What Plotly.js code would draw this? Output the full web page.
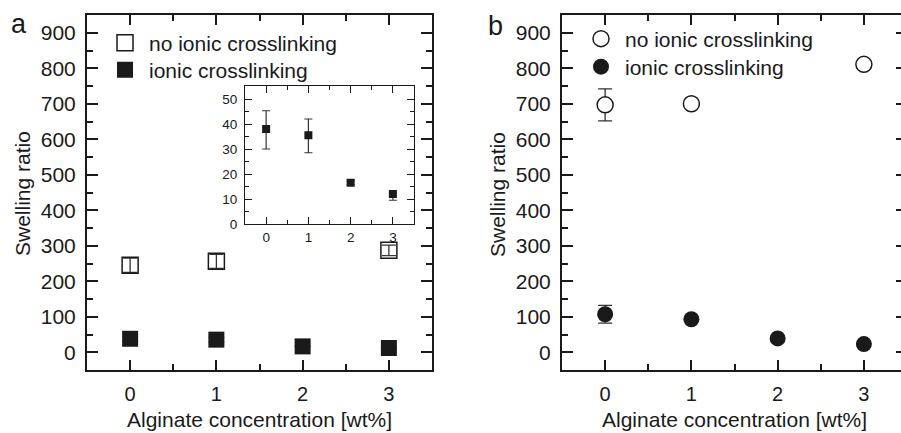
<!DOCTYPE html>
<html><head><meta charset="utf-8">
<script src="https://cdn.plot.ly/plotly-3.0.1.min.js"></script>
<style>html,body{margin:0;padding:0;overflow:hidden;background:#fff;width:901px;height:433px}</style>
</head><body><div id="c"></div>
<script>
const conc = [0, 1, 2, 3];
const xTicks = [0, 1, 2, 3];
const aNoIonic = [245, 256, null, 287];
const aNoIonicErr = [20, 20, null, 15];
const aIonic = [38, 35.5, 16.5, 12];
const aIonicErrUp = [7.3, 6.5, 0.8, 0.5];
const aIonicErrDown = [8, 7, 0.8, 2.5];
const bNoIonic = [697, 700, null, 811];
const bNoIonicErr = [45, 6, null, 6];
const bIonic = [107, 93, 39, 23];
const bIonicErr = [25, 6, 5, 4];
const yTicksMain = [0, 100, 200, 300, 400, 500, 600, 700, 800, 900];
const yTicksInset = [0, 10, 20, 30, 40, 50];
const labelNo = "no ionic crosslinking";
const labelIonic = "ionic crosslinking";
const xTitle = "Alginate concentration [wt%]";
const yTitle = "Swelling ratio";

const W = 912, H = 433;
const px = v => v / W, py = v => 1 - v / H;
const FONT = "Liberation Sans, Arial, sans-serif";
const ink = "#1a1a1a";

const traces = [
  {x: conc, y: aNoIonic, type: 'scatter', mode: 'markers', name: labelNo, xaxis: 'x', yaxis: 'y', legend: 'legend',
   marker: {symbol: 'square-open', size: 16, color: ink, line: {width: 1.5, color: ink}},
   error_y: {type: 'data', array: aNoIonicErr, visible: true, color: '#333', thickness: 1.3, width: 7}},
  {x: conc, y: aIonic, type: 'scatter', mode: 'markers', name: labelIonic, xaxis: 'x', yaxis: 'y', legend: 'legend2',
   marker: {symbol: 'square', size: 16, color: ink},
   error_y: {type: 'data', symmetric: false, array: aIonicErrUp, arrayminus: aIonicErrDown, visible: true, color: '#555', thickness: 1, width: 8}},
  {x: conc, y: aIonic, type: 'scatter', mode: 'markers', showlegend: false, xaxis: 'x3', yaxis: 'y3',
   marker: {symbol: 'square', size: 8, color: ink},
   error_y: {type: 'data', symmetric: false, array: aIonicErrUp, arrayminus: aIonicErrDown, visible: true, color: '#333', thickness: 1.2, width: 4}},
  {x: conc, y: bNoIonic, type: 'scatter', mode: 'markers', name: labelNo, xaxis: 'x2', yaxis: 'y2', legend: 'legend3',
   marker: {symbol: 'circle', size: 16, color: '#fff', line: {width: 1.5, color: ink}},
   error_y: {type: 'data', array: bNoIonicErr, visible: true, color: '#333', thickness: 1.3, width: 7}},
  {x: conc, y: bIonic, type: 'scatter', mode: 'markers', name: labelIonic, xaxis: 'x2', yaxis: 'y2', legend: 'legend4',
   marker: {symbol: 'circle', size: 16, color: ink},
   error_y: {type: 'data', array: bIonicErr, visible: true, color: '#333', thickness: 1.3, width: 7}}
];

function xax(dom, anchor, size, lw, tl, mtl, standoff) {
  return {domain: dom, anchor: anchor, range: [-0.5, 3.5], tickvals: xTicks, ticks: 'inside', ticklen: tl, tickwidth: lw,
    tickcolor: ink, showline: true, linecolor: ink, linewidth: lw, mirror: 'allticks', showgrid: false, zeroline: false,
    tickfont: {family: FONT, size: size, color: ink}, ticklabelstandoff: standoff,
    minor: {dtick: 0.5, tick0: 0, ticks: 'inside', ticklen: mtl, tickwidth: lw, tickcolor: ink, showgrid: false}, fixedrange: true};
}
function yax(dom, anchor, range, tv, dt, size, lw, tl, mtl, standoff) {
  return {domain: dom, anchor: anchor, range: range, tickvals: tv, ticks: 'inside', ticklen: tl, tickwidth: lw,
    tickcolor: ink, showline: true, linecolor: ink, linewidth: lw, mirror: 'allticks', showgrid: false, zeroline: false,
    tickfont: {family: FONT, size: size, color: ink}, ticklabelstandoff: standoff,
    minor: {dtick: dt, tick0: 0, ticks: 'inside', ticklen: mtl, tickwidth: lw, tickcolor: ink, showgrid: false}, fixedrange: true};
}
function leg(xc, yc) {
  return {x: px(xc - 24), y: py(yc), xanchor: 'left', yanchor: 'middle', bgcolor: 'rgba(0,0,0,0)', borderwidth: 0,
    itemwidth: 38, font: {family: FONT, size: 21, color: ink}, tracegroupgap: 0};
}

const yDom = [py(370), py(15)];
const layout = {
  width: W, height: H, margin: {l: 0, r: 0, t: 0, b: 0}, paper_bgcolor: '#fff', plot_bgcolor: '#fff',
  font: {family: FONT, color: ink}, hovermode: false,
  xaxis: xax([px(87), px(432)], 'y', 20, 2, 10, 6, 5),
  yaxis: yax(yDom, 'x', [-50, 950], yTicksMain, 50, 21, 2, 11, 6, 5),
  xaxis2: xax([px(562), px(907)], 'y2', 20, 2, 10, 6, 5),
  yaxis2: yax(yDom, 'x2', [-50, 950], yTicksMain, 50, 21, 2, 11, 6, 5),
  xaxis3: xax([px(245), px(414)], 'y3', 13.5, 1, 7, 4, 1),
  yaxis3: yax([py(224), py(86)], 'x3', [0, 55.2], yTicksInset, 5, 13.5, 1, 7, 4, 4),
  legend: leg(125, 43),
  legend2: leg(125, 70),
  legend3: leg(601, 39),
  legend4: leg(601, 67),
  annotations: [
    {text: xTitle, xref: 'paper', yref: 'paper', x: px(259.5), y: py(419), xanchor: 'center', yanchor: 'middle', showarrow: false, font: {family: FONT, size: 21, color: ink}},
    {text: xTitle, xref: 'paper', yref: 'paper', x: px(734.5), y: py(419), xanchor: 'center', yanchor: 'middle', showarrow: false, font: {family: FONT, size: 21, color: ink}},
    {text: yTitle, xref: 'paper', yref: 'paper', x: px(22), y: py(194), xanchor: 'center', yanchor: 'middle', textangle: -90, showarrow: false, font: {family: FONT, size: 21, color: ink}},
    {text: yTitle, xref: 'paper', yref: 'paper', x: px(497), y: py(194), xanchor: 'center', yanchor: 'middle', textangle: -90, showarrow: false, font: {family: FONT, size: 21, color: ink}},
    {text: 'a', xref: 'paper', yref: 'paper', x: px(19), y: py(24), xanchor: 'center', yanchor: 'middle', showarrow: false, font: {family: FONT, size: 27, color: ink}},
    {text: 'b', xref: 'paper', yref: 'paper', x: px(495), y: py(26), xanchor: 'center', yanchor: 'middle', showarrow: false, font: {family: FONT, size: 27, color: ink}}
  ]
};
Plotly.newPlot('c', traces, layout, {staticPlot: true, displayModeBar: false});
</script></body></html>
